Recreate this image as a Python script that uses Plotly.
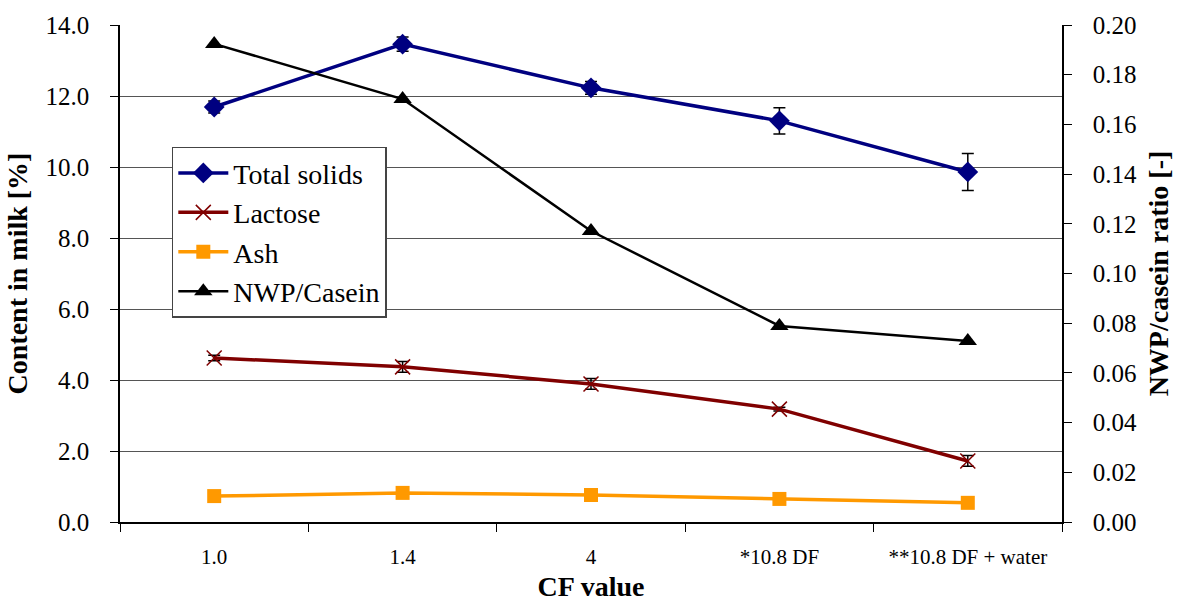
import plotly.graph_objects as go

categories = ["1.0", "1.4", "4", "*10.8 DF", "**10.8 DF + water"]
total_solids = [11.69, 13.46, 12.23, 11.30, 9.86]
total_solids_err = [0.17, 0.2, 0.18, 0.37, 0.52]
lactose = [4.62, 4.37, 3.89, 3.18, 1.72]
lactose_err = [0.08, 0.15, 0.15, 0.05, 0.15]
ash = [0.73, 0.82, 0.76, 0.65, 0.54]
nwp_casein = [0.1924, 0.1702, 0.1171, 0.0789, 0.0728]

FONT = "Times New Roman, Liberation Serif, serif"

fig = go.Figure()
fig.add_trace(go.Scatter(
    x=categories, y=total_solids, name="Total solids", mode="lines+markers",
    legendgroup="a",
    line=dict(color="#000080", width=3.5),
    marker=dict(symbol="diamond", size=16, color="#000080"),
    error_y=dict(type="data", array=total_solids_err, color="black", thickness=1.5, width=6),
))
fig.add_trace(go.Scatter(
    x=categories, y=lactose, name="Lactose", mode="lines+markers",
    legendgroup="b",
    line=dict(color="#800000", width=3.5),
    marker=dict(symbol="x-thin", size=15, line=dict(color="#800000", width=1.5)),
    error_y=dict(type="data", array=lactose_err, color="black", thickness=1.5, width=6),
))
fig.add_trace(go.Scatter(
    x=categories, y=ash, name="Ash", mode="lines+markers",
    legendgroup="c",
    line=dict(color="#FF9900", width=3.5),
    marker=dict(symbol="square", size=14, color="#FF9900"),
))
fig.add_trace(go.Scatter(
    x=categories, y=nwp_casein, name="NWP/Casein", mode="lines+markers", yaxis="y2",
    legendgroup="d",
    line=dict(color="black", width=2.5),
    marker=dict(symbol="triangle-up", size=16, color="black"),
))

fig.update_layout(
    width=1179, height=603,
    margin=dict(l=120, r=117, t=25, b=81),
    plot_bgcolor="white", paper_bgcolor="white",
    font=dict(family=FONT, size=20, color="black"),
    showlegend=True,
    legend=dict(
        x=0.055, y=0.755, xanchor="left", yanchor="top",
        bgcolor="white", bordercolor="#444", borderwidth=1.5,
        font=dict(family=FONT, size=28, color="black"),
        tracegroupgap=0, itemwidth=50,
    ),
    xaxis=dict(
        type="category", range=[-0.5, 4.5], automargin=False,
        tickson="boundaries", ticks="outside", ticklen=8, tickcolor="black",
        ticklabelstandoff=15,
        showline=True, linecolor="black", linewidth=1.5,
        showgrid=False, tickfont=dict(family=FONT, size=21, color="black"),
        title=dict(text="<b>CF value</b>", font=dict(family=FONT, size=28), standoff=8),
    ),
    yaxis=dict(
        range=[0, 14], dtick=2, tickformat=".1f", automargin=False,
        ticks="outside", ticklen=8, tickcolor="black", ticklabelstandoff=16,
        showline=True, linecolor="black", linewidth=1.5,
        showgrid=True, gridcolor="#555", gridwidth=1,
        zeroline=False, tickfont=dict(family=FONT, size=25, color="black"),
        title=dict(text="<b>Content in milk [%]</b>", font=dict(family=FONT, size=28), standoff=10),
    ),
    yaxis2=dict(
        overlaying="y", side="right", automargin=False,
        range=[0, 0.2], dtick=0.02, tickformat=".2f",
        ticks="outside", ticklen=8, tickcolor="black", ticklabelstandoff=16,
        showline=True, linecolor="black", linewidth=1.5,
        showgrid=False, zeroline=False, tickfont=dict(family=FONT, size=25, color="black"),
        title=dict(text="<b>NWP/casein ratio [-]</b>", font=dict(family=FONT, size=28), standoff=12),
    ),
)

fig.write_html("out.html")
